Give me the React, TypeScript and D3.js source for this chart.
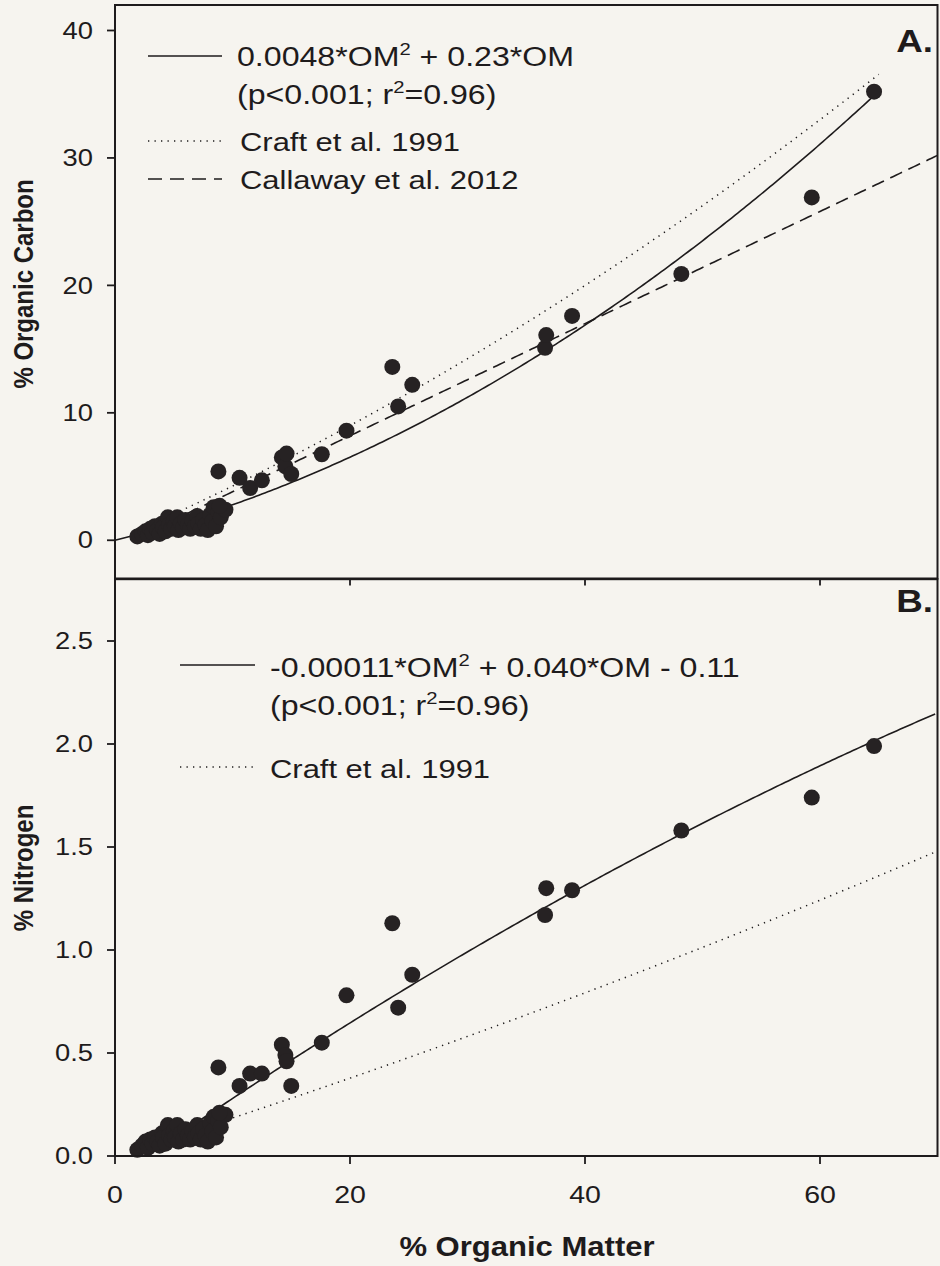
import React from 'react';
import * as d3 from 'd3';

// ---- data ----
// larger, well separated samples: % organic matter, % organic carbon, % nitrogen
const omMain = [8.8, 10.6, 11.5, 12.5, 14.2, 14.5, 14.6, 15.0, 17.6, 19.7, 23.6, 25.3, 24.1, 36.6, 36.7, 38.9, 48.2, 59.3, 64.6];
const ocMain = [5.4, 4.9, 4.1, 4.7, 6.5, 5.8, 6.8, 5.2, 6.75, 8.6, 13.6, 12.2, 10.5, 15.1, 16.1, 17.6, 20.9, 26.9, 35.2];
const nMain = [0.43, 0.34, 0.40, 0.40, 0.54, 0.49, 0.46, 0.34, 0.55, 0.78, 1.13, 0.88, 0.72, 1.17, 1.30, 1.29, 1.58, 1.74, 1.99];
// dense cluster near the origin
const omCluster = [1.9, 2.3, 2.6, 2.8, 3.0, 3.2, 3.4, 3.6, 3.8, 4.0, 4.1, 4.3, 4.5, 4.6, 4.8, 5.0, 5.1, 5.3, 5.4, 5.6, 5.8, 6.0, 6.2, 6.4, 6.6, 6.8, 7.0, 7.1, 7.3, 7.5, 7.7, 7.9, 8.1, 8.3, 8.4, 8.6, 8.8, 9.0, 9.4, 8.9];
const ocCluster = [0.3, 0.5, 0.7, 0.4, 0.9, 0.6, 1.1, 0.8, 0.5, 1.3, 1.0, 0.7, 1.8, 1.2, 0.9, 1.5, 1.1, 1.8, 0.8, 1.3, 1.0, 1.6, 1.2, 0.9, 1.5, 1.1, 1.9, 1.3, 0.9, 1.6, 1.2, 0.8, 2.0, 1.5, 2.6, 1.1, 2.2, 1.8, 2.4, 2.7];
const nCluster = [0.03, 0.05, 0.07, 0.04, 0.08, 0.06, 0.09, 0.07, 0.05, 0.11, 0.09, 0.06, 0.15, 0.10, 0.08, 0.12, 0.09, 0.15, 0.07, 0.11, 0.08, 0.13, 0.10, 0.08, 0.12, 0.09, 0.15, 0.11, 0.08, 0.13, 0.10, 0.07, 0.16, 0.12, 0.19, 0.09, 0.17, 0.14, 0.20, 0.21];

const xTicks = [0, 20, 40, 60];
const ocTicks = [0, 10, 20, 30, 40];
const nTicks = [0, 0.5, 1.0, 1.5, 2.0, 2.5];

// fitted / published relationships shown as lines
const fitA = (om: number) => 0.0048 * om * om + 0.23 * om;
const craftC = (om: number) => 0.4 * om + 0.0025 * om * om;
const callaway = (om: number) => 0.44 * om - 0.6;
const fitB = (om: number) => -0.00011 * om * om + 0.04 * om - 0.11;
const craftN = (om: number) => 0.018 * om + 0.000045 * om * om;

const FONT = '"Liberation Sans", Arial, Helvetica, sans-serif';
const INK = '#1e1b1c';

function T(props: any) {
  const { x, y, size = 23, sx = 1.19, weight = 'normal', anchor = 'start', rotate, children } = props;
  const tf = `translate(${x},${y}) scale(${sx},1)` + (rotate ? ` rotate(${rotate})` : '');
  return (
    <text transform={tf} fontFamily={FONT} fontSize={size} fontWeight={weight} textAnchor={anchor} fill={INK}>
      {children}
    </text>
  );
}

export default function App() {
  const W = 940, H = 1266;
  const L = 115, R = 937.5;
  const x = d3.scaleLinear().domain([0, 70]).range([L, R]);
  const yA = d3.scaleLinear().domain([-3, 42]).range([578.5, 5]);
  const yB = d3.scaleLinear().domain([0, 2.8]).range([1156, 579.2]);

  const curve = (f: (v: number) => number, ys: any, a: number, b: number) => {
    const pts = d3.range(a, b + 1e-9, 0.25).map((v) => [x(v), ys(f(v))] as [number, number]);
    return d3.line()(pts) as string;
  };

  const topA = yA(42), botA = yA(-3);
  const topB = yB(2.8), botB = yB(0);

  const ptsA = [...omCluster.map((o, i) => [o, ocCluster[i]]), ...omMain.map((o, i) => [o, ocMain[i]])];
  const ptsB = [...omCluster.map((o, i) => [o, nCluster[i]]), ...omMain.map((o, i) => [o, nMain[i]])];

  const dotted = '1.3 5.2';
  const dashed = '13 7';
  const sup = (s: string) => <tspan dy={-11} fontSize={17}>{s}</tspan>;

  return (
    <div style={{ position: 'absolute', left: 0, top: 0, width: W, height: H }}>
      <svg width={W} height={H} viewBox={`0 0 ${W} ${H}`} style={{ display: 'block' }}>
        <rect x={0} y={0} width={W} height={H} fill="#f6f4ef" />

        {/* ---------- Panel A ---------- */}
        <path d={curve(craftC, yA, 2, 65)} fill="none" stroke={INK} strokeWidth={1.5} strokeDasharray={dotted} />
        <path d={curve(callaway, yA, 3, 70)} fill="none" stroke={INK} strokeWidth={1.6} strokeDasharray={dashed} />
        <path d={curve(fitA, yA, 0, 65)} fill="none" stroke={INK} strokeWidth={1.6} />
        {ptsA.map((p, i) => (
          <circle key={'a' + i} cx={x(p[0])} cy={yA(p[1])} r={8} fill="#262223" />
        ))}
        <rect x={L} y={topA} width={R - L} height={botA - topA} fill="none" stroke={INK} strokeWidth={2} />
        {ocTicks.map((t) => (
          <g key={'ya' + t}>
            <line x1={L - 8} x2={L} y1={yA(t)} y2={yA(t)} stroke={INK} strokeWidth={1.8} />
            <T x={L - 22} y={yA(t) + 8.2} anchor="end">{t}</T>
          </g>
        ))}
        {xTicks.map((t) => (
          <line key={'xa' + t} x1={x(t)} x2={x(t)} y1={botA} y2={botA + 7} stroke={INK} strokeWidth={1.8} />
        ))}
        <T x={933} y={52} size={32} sx={1.15} weight="bold" anchor="end">A.</T>
        {/* legend A */}
        <line x1={148} x2={222} y1={56} y2={56} stroke={INK} strokeWidth={1.6} />
        <T x={237} y={66} size={27}>
          0.0048*OM{sup('2')}<tspan dy={11}> + 0.23*OM</tspan>
        </T>
        <T x={237} y={104} size={27}>
          (p&lt;0.001; r{sup('2')}<tspan dy={11}>=0.96)</tspan>
        </T>
        <line x1={148} x2={222} y1={141} y2={141} stroke={INK} strokeWidth={1.5} strokeDasharray={dotted} />
        <T x={240} y={151} size={26}>Craft et al. 1991</T>
        <line x1={148} x2={222} y1={179} y2={179} stroke={INK} strokeWidth={1.6} strokeDasharray="14 8" />
        <T x={240} y={189} size={26}>Callaway et al. 2012</T>
        <T x={33} y={284} size={24} weight="bold" anchor="middle" rotate={-90}>% Organic Carbon</T>

        {/* ---------- Panel B ---------- */}
        <path d={curve(craftN, yB, 9, 70)} fill="none" stroke={INK} strokeWidth={1.5} strokeDasharray={dotted} />
        <path d={curve(fitB, yB, 2.8, 70)} fill="none" stroke={INK} strokeWidth={1.6} />
        {ptsB.map((p, i) => (
          <circle key={'b' + i} cx={x(p[0])} cy={yB(p[1])} r={8} fill="#262223" />
        ))}
        <rect x={L} y={topB} width={R - L} height={botB - topB} fill="none" stroke={INK} strokeWidth={2} />
        {nTicks.map((t) => (
          <g key={'yb' + t}>
            <line x1={L - 8} x2={L} y1={yB(t)} y2={yB(t)} stroke={INK} strokeWidth={1.8} />
            <T x={L - 22} y={yB(t) + 8.2} anchor="end">{d3.format('.1f')(t)}</T>
          </g>
        ))}
        {xTicks.map((t) => (
          <g key={'xb' + t}>
            <line x1={x(t)} x2={x(t)} y1={botB} y2={botB + 8} stroke={INK} strokeWidth={1.8} />
            <T x={x(t)} y={1203} size={24} anchor="middle">{t}</T>
          </g>
        ))}
        <T x={933} y={612} size={32} sx={1.15} weight="bold" anchor="end">B.</T>
        {/* legend B */}
        <line x1={180} x2={255} y1={665} y2={665} stroke={INK} strokeWidth={1.6} />
        <T x={270} y={677} size={27}>
          -0.00011*OM{sup('2')}<tspan dy={11}> + 0.040*OM - 0.11</tspan>
        </T>
        <T x={270} y={715} size={27}>
          (p&lt;0.001; r{sup('2')}<tspan dy={11}>=0.96)</tspan>
        </T>
        <line x1={180} x2={255} y1={767} y2={767} stroke={INK} strokeWidth={1.5} strokeDasharray={dotted} />
        <T x={270} y={778} size={26}>Craft et al. 1991</T>
        <T x={33} y={868} size={24} weight="bold" anchor="middle" rotate={-90}>% Nitrogen</T>

        <T x={527} y={1256} size={27} sx={1.15} weight="bold" anchor="middle">% Organic Matter</T>
      </svg>
    </div>
  );
}
